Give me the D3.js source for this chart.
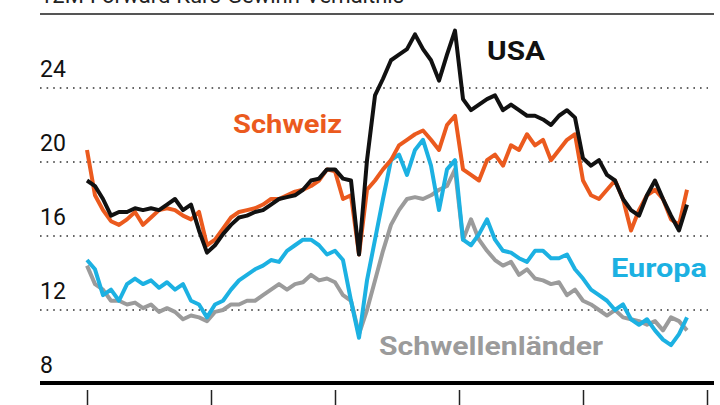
<!DOCTYPE html>
<html><head><meta charset="utf-8">
<script src="https://cdn.jsdelivr.net/npm/d3@7"></script>
<style>body{margin:0;background:#fff}svg{display:block}</style></head>
<body><svg id="c" width="720" height="405"></svg>
<script>
const yTicks=[8,12,16,20,24];
const usa=[19.0,18.7,18.0,17.1,17.3,17.3,17.5,17.4,17.5,17.4,17.7,18.0,17.4,17.7,16.3,15.1,15.5,16.1,16.6,17.0,17.1,17.3,17.4,17.7,18.0,18.1,18.2,18.5,19.0,19.1,19.6,19.6,19.1,19.0,
15.0,20.1,23.6,24.5,25.5,25.8,26.1,26.9,26.1,25.5,24.4,25.8,27.1,23.4,22.8,23.1,23.4,23.6,22.8,23.1,22.8,22.5,22.5,22.3,22.0,22.5,22.8,22.4,20.2,19.8,20.1,19.3,19.0,18.0,17.4,17.1,18.2,19.0,18.0,17.1,16.3,17.7];
const schweiz=[20.65,18.2,17.4,16.8,16.6,16.9,17.3,16.6,17.0,17.4,17.5,17.4,17.1,16.9,17.3,15.5,15.8,16.4,17.0,17.3,17.4,17.5,17.7,18.0,18.0,18.2,18.4,18.5,18.7,19.0,19.6,19.5,18.0,18.2,
15.0,18.5,19.0,19.6,20.1,20.9,21.2,21.5,21.7,21.2,20.65,22.0,22.5,19.6,19.3,19.0,20.1,20.4,19.8,20.9,20.65,21.5,20.9,21.2,20.1,20.65,21.2,21.5,19.0,18.2,18.0,18.5,19.0,18.0,16.3,17.4,18.2,18.5,18.0,16.9,16.6,18.5];
const europa=[14.7,14.2,12.8,13.1,12.5,13.4,13.7,13.4,13.6,13.2,13.5,13.1,13.4,12.5,12.3,11.6,12.3,12.5,13.1,13.6,13.9,14.2,14.4,14.7,14.6,15.2,15.5,15.8,15.8,15.5,15.0,15.2,14.7,12.5,
10.5,13.6,15.8,18.0,20.1,20.4,19.3,20.65,21.2,19.8,17.4,19.6,20.1,15.8,15.5,16.1,16.9,15.8,15.2,15.1,14.8,14.6,15.2,15.2,14.8,14.8,15.0,14.2,13.7,13.1,12.8,12.5,12.0,12.3,11.5,11.2,11.5,10.9,10.4,10.1,10.7,11.6];
const schwellen=[14.4,13.4,13.1,12.5,12.5,12.3,12.4,12.1,12.3,11.9,12.1,11.9,11.5,11.7,11.6,11.4,11.9,12.0,12.3,12.3,12.5,12.5,12.8,13.1,13.4,13.1,13.4,13.5,13.9,13.6,13.7,13.5,12.8,12.5,
10.7,12.0,13.6,15.2,16.6,17.4,18.0,18.1,18.0,18.2,18.5,18.7,19.6,15.8,16.9,15.8,15.2,14.7,14.4,14.6,13.9,14.2,13.7,13.6,13.4,13.5,12.8,13.1,12.5,12.3,12.0,11.7,12.0,11.6,11.5,11.4,11.2,11.4,10.9,11.6,11.4,10.9];
const xTicks=[0,15.5,31,46.5,62,77.5];
const series=[
 {name:"Schwellenländer",values:schwellen,color:"#9b9b9b",lx:379,ly:355,lw:224},
 {name:"Europa",values:europa,color:"#1cb1e2",lx:611,ly:277,lw:96},
 {name:"Schweiz",values:schweiz,color:"#eb5a1e",lx:233,ly:133,lw:109},
 {name:"USA",values:usa,color:"#111111",lx:487,ly:60,lw:58}];

const svg=d3.select("#c");
const x=d3.scaleLinear().domain([0,75]).range([87,687]);
const y=d3.scaleLinear().domain([8,24]).range([384,88]);

svg.append("text").attr("x",40).attr("y",3).attr("font-family","Roboto, sans-serif").attr("font-size",22).attr("fill","#222")
 .text("12M-Forward-Kurs-Gewinn-Verhältnis");
svg.append("line").attr("x1",40).attr("x2",714).attr("y1",14).attr("y2",14).attr("stroke","#555").attr("stroke-width",2);

yTicks.filter(d=>d>8).forEach(d=>{
  svg.append("line").attr("x1",40).attr("x2",708).attr("y1",y(d)).attr("y2",y(d))
   .attr("stroke","#333").attr("stroke-width",1.6).attr("stroke-dasharray","1.6,5");
});
yTicks.forEach(d=>{
  svg.append("text").attr("x",40).attr("y",y(d)-11).attr("font-family","Roboto, sans-serif")
   .attr("font-size",23).attr("fill","#111").text(d);
});

const line=d3.line().x((d,i)=>x(i)).y(d=>y(d)).curve(d3.curveLinear);
series.forEach(s=>{
  svg.append("path").attr("d",line(s.values)).attr("fill","none").attr("stroke",s.color)
   .attr("stroke-width",4).attr("stroke-linejoin","round");
});
series.forEach(s=>{
  svg.append("text").attr("x",s.lx).attr("y",s.ly).attr("font-family","Roboto, sans-serif")
   .attr("font-weight","bold").attr("font-size",26).attr("fill",s.color)
   .attr("textLength",s.lw).attr("lengthAdjust","spacingAndGlyphs").text(s.name);
});

svg.append("line").attr("x1",40).attr("x2",714).attr("y1",383).attr("y2",383).attr("stroke","#000").attr("stroke-width",4);
const xa=svg.append("g").attr("transform","translate(0,390)")
 .call(d3.axisBottom(x).tickValues(xTicks).tickSize(15).tickFormat(""));
xa.select(".domain").remove();
xa.selectAll("line").attr("stroke","#222").attr("stroke-width",1.5);
</script></body></html>
